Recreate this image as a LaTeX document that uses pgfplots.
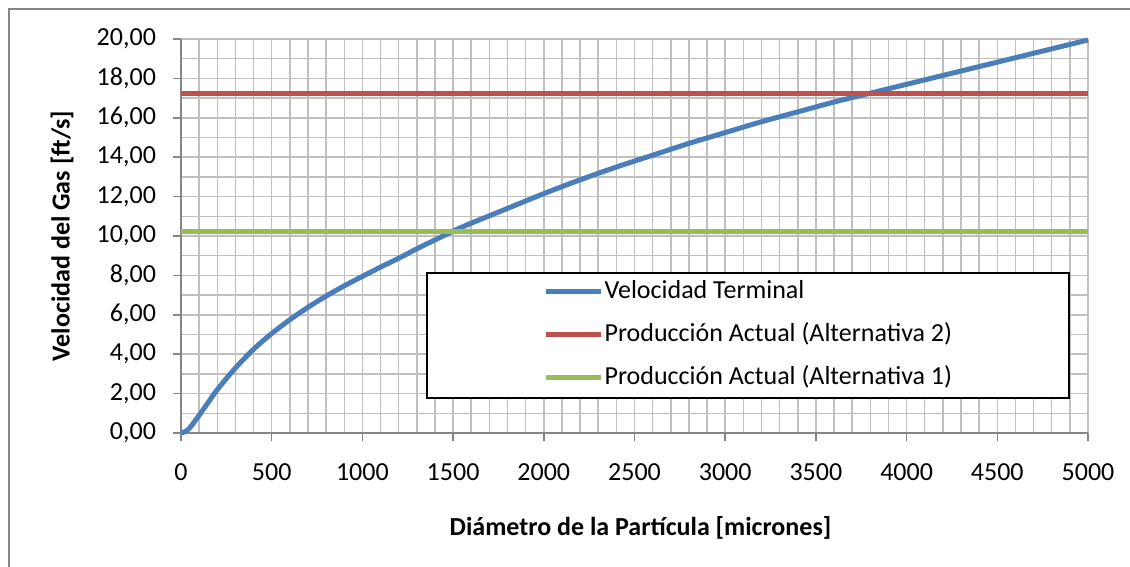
\documentclass[border=0pt]{standalone}
\usepackage{fontspec}
\setmainfont{Carlito}
\usepackage{pgfplots}
\pgfplotsset{compat=1.18}
\definecolor{cblue}{RGB}{74,126,187}
\definecolor{cred}{RGB}{192,80,77}
\definecolor{cgreen}{RGB}{155,187,89}
\definecolor{cgrid}{RGB}{191,191,191}
\definecolor{caxis}{RGB}{134,134,134}
\begin{document}
\begin{tikzpicture}[x=1pt,y=1pt]
\useasboundingbox (0,0) rectangle (565,283.5);
\fill[white] (0,0) rectangle (565,283.5);
\draw[caxis, line width=1pt] (4.5,-3) -- (4.5,279) -- (568,279);
\begin{axis}[
  at={(90.5pt,67pt)}, anchor=south west,
  scale only axis, width=453.5pt, height=197pt,
  xmin=0, xmax=5000, ymin=0, ymax=20,
  xtick={0,500,...,5000}, ytick={0,2,...,20},
  minor x tick num=4, minor y tick num=1,
  grid=both,
  major grid style={cgrid, line width=0.75pt},
  minor grid style={cgrid, line width=0.75pt},
  axis x line*=bottom, axis y line*=left,
  axis line style={caxis, line width=0.75pt, -},
  tick align=outside, major tick length=4pt, minor tick length=0pt,
  tick style={caxis, line width=0.75pt},
  scaled x ticks=false, scaled y ticks=false,
  /pgf/number format/assume math mode=true,
  ticklabel style={font=\fontsize{13}{15}\selectfont},
  xticklabel style={/pgf/number format/1000 sep={}, yshift=-8pt},
  yticklabel style={/pgf/number format/.cd, fixed, fixed zerofill, precision=2, use comma, /tikz/xshift=-5pt},
  xlabel={Diámetro de la Partícula [micrones]},
  ylabel={Velocidad del Gas [ft/s]},
  label style={font=\bfseries\fontsize{13}{15}\selectfont},
  xlabel style={at={(axis description cs:0.5,0)}, anchor=center, yshift=-47.5pt, xshift=3pt},
  ylabel style={at={(axis description cs:0,0.5)}, anchor=center, yshift=59.5pt},
  clip=false,
  legend cell align=left,
  legend image code/.code={\draw[#1] (0pt,0.5pt) -- (27.5pt,0.5pt);},
  legend style={at={(axis cs:1351,8.17)}, anchor=north west, draw=black, line width=0.75pt,
    minimum width=321pt, minimum height=62.5pt,
    font=\fontsize{13}{15}\selectfont, row sep=9pt, column sep=0.5pt,
    nodes={inner sep=0pt, text height=9.5pt, text depth=3pt, minimum width=0pt, minimum height=0pt}},
]
\addplot[cblue, line width=2.5pt, smooth] coordinates {
(0,0) (25,0.08) (50,0.28) (100,0.9) (150,1.55) (200,2.2) (300,3.3) (400,4.25) (500,5.05)
(600,5.75) (700,6.38) (800,6.95) (900,7.47) (1000,7.95) (1100,8.42) (1200,8.87)
(1300,9.35) (1400,9.8) (1500,10.25) (1600,10.65) (1800,11.4) (2000,12.15) (2200,12.85)
(2400,13.5) (2600,14.1) (2800,14.7) (3000,15.25) (3200,15.8) (3400,16.3) (3600,16.8)
(3800,17.25) (4000,17.7) (4200,18.15) (4400,18.6) (4600,19.05) (4800,19.5) (5000,19.95)
};
\addlegendentry{Velocidad Terminal}
\addplot[cred, line width=2.5pt] coordinates {(0,17.22) (5000,17.22)};
\addlegendentry{Producción Actual (Alternativa 2)}
\addplot[cgreen, line width=2.5pt] coordinates {(0,10.25) (5000,10.25)};
\addlegendentry{Producción Actual (Alternativa 1)}
\end{axis}
\end{tikzpicture}
\end{document}
